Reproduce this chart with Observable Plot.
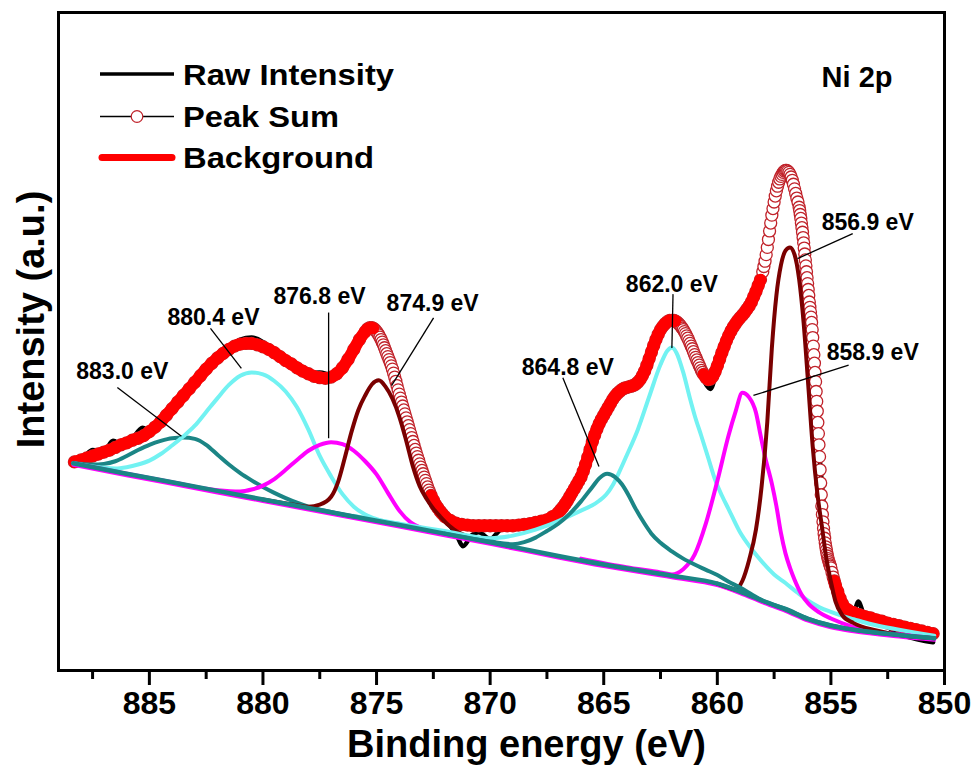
<!DOCTYPE html>
<html><head><meta charset="utf-8">
<script src="https://cdn.jsdelivr.net/npm/d3@7"></script>
<script src="https://cdn.jsdelivr.net/npm/@observablehq/plot@0.6"></script>
<style>
body{margin:0;background:#fff;}
#chart{width:976px;height:769px;overflow:hidden;}
</style></head><body><div id="chart"></div>
<script>
// ---------- data (binding energy eV, intensity a.u.) ----------
const majorTicks = [885, 880, 875, 870, 865, 860, 855, 850];
const minorTicks = [887.5, 882.5, 877.5, 872.5, 867.5, 862.5, 857.5, 852.5];

const peakSum = [
[888.3,31.7],[888.0,32.0],[887.75,32.3],[887.5,32.6],[887.25,32.9],[887.0,33.2],[886.75,33.5],[886.5,33.9],[886.25,34.3],[886.0,34.6],
[885.75,35.0],[885.5,35.3],[885.25,35.7],[885.0,36.3],[884.75,37.0],[884.5,37.8],[884.25,38.8],[884.0,39.8],[883.75,40.8],[883.5,41.8],
[883.25,42.8],[883.0,43.8],[882.75,44.8],[882.5,45.8],[882.25,46.7],[882.0,47.5],[881.75,48.2],[881.5,48.8],[881.25,49.3],[881.0,49.6],
[880.75,49.7],[880.5,49.7],[880.25,49.5],[880.0,49.2],[879.75,48.8],[879.5,48.3],[879.25,47.7],[879.0,47.1],[878.75,46.6],[878.5,46.0],
[878.25,45.5],[878.0,45.1],[877.75,44.7],[877.5,44.5],[877.25,44.4],[877.0,44.6],[876.75,45.1],[876.5,46.0],[876.25,47.3],[876.0,48.8],
[875.75,50.3],[875.5,51.5],[875.4,51.9],[875.3,52.1],[875.2,52.1],[875.15,52.0],[875.1,51.9],[875.05,51.7],[875.0,51.5],[874.95,51.25],
[874.9,51.0],[874.85,50.65],[874.8,50.3],[874.75,49.9],[874.7,49.5],[874.65,49.05],[874.6,48.6],[874.55,48.15],[874.5,47.7],[874.45,47.25],
[874.4,46.8],[874.35,46.3],[874.3,45.8],[874.25,45.2],[874.2,44.6],[874.15,43.95],[874.1,43.3],[874.05,42.65],[874.0,42.0],[873.95,41.4],
[873.9,40.8],[873.85,40.2],[873.8,39.6],[873.75,39.0],[873.7,38.4],[873.65,37.8],[873.6,37.2],[873.55,36.6],[873.5,36.0],[873.45,35.4],
[873.4,34.8],[873.35,34.2],[873.3,33.6],[873.25,33.05],[873.2,32.5],[873.15,31.95],[873.1,31.4],[873.05,30.9],[873.0,30.4],[872.95,29.9],
[872.9,29.4],[872.85,28.9],[872.8,28.4],[872.75,27.9],[872.7,27.4],[872.65,27.0],[872.6,26.6],[872.5,25.9],[872.4,25.2],[872.3,24.7],
[872.2,24.2],[872.1,23.8],[872.0,23.4],[871.75,22.8],[871.5,22.4],[871.25,22.2],
[871.0,22.1],[870.75,22.0],[870.5,22.0],[870.25,22.0],[870.0,22.0],[869.75,22.0],[869.5,22.0],[869.25,22.0],[869.0,22.0],[868.75,22.1],
[868.5,22.2],[868.25,22.3],[868.0,22.5],[867.75,22.7],[867.5,22.9],[867.25,23.4],[867.0,24.0],[866.9,24.4],[866.8,24.8],[866.7,25.3],
[866.6,25.8],[866.5,26.4],[866.4,27.0],[866.3,27.6],[866.2,28.2],[866.1,28.8],[866.0,29.4],[865.9,30.3],[865.8,31.3],[865.7,32.4],
[865.6,33.6],[865.5,34.8],[865.4,35.8],[865.3,36.7],[865.2,37.5],[865.1,38.2],[865.0,38.8],[864.9,39.4],[864.8,40.0],[864.7,40.6],
[864.6,41.2],[864.5,41.7],[864.4,42.1],[864.3,42.4],[864.2,42.7],[864.1,42.9],[864.0,43.0],[863.9,43.1],[863.8,43.2],[863.7,43.3],
[863.6,43.5],[863.5,43.8],[863.4,44.2],[863.3,44.8],[863.2,45.5],[863.1,46.4],[863.0,47.4],[862.9,48.4],[862.8,49.4],[862.7,50.3],
[862.6,51.1],[862.5,51.8],[862.4,52.3],[862.3,52.7],[862.2,53.0],[862.1,53.2],[862.0,53.2],[861.9,53.2],[861.85,53.1],[861.8,53.0],
[861.75,52.85],[861.7,52.7],[861.65,52.5],[861.6,52.3],[861.55,52.05],[861.5,51.8],[861.45,51.5],[861.4,51.2],[861.35,50.85],[861.3,50.5],
[861.25,50.1],[861.2,49.7],[861.15,49.3],[861.1,48.9],[861.05,48.45],[861.0,48.0],[860.95,47.6],[860.9,47.2],[860.85,46.8],[860.8,46.4],
[860.75,46.0],[860.7,45.6],[860.65,45.3],[860.6,45.0],[860.5,44.5],[860.4,44.2],[860.3,44.3],[860.2,44.7],[860.1,45.4],[860.0,46.3],
[859.9,47.3],[859.8,48.3],[859.7,49.2],
[859.6,50.1],[859.5,50.9],[859.4,51.6],[859.3,52.2],[859.2,52.7],[859.1,53.2],[859.0,53.6],[858.9,54.0],[858.8,54.4],[858.7,54.9],
[858.6,55.4],[858.5,56.0],[858.4,56.8],[858.3,57.6],[858.2,58.5],[858.1,59.4],[858.0,60.6],[857.95,61.4],[857.9,62.2],[857.85,63.2],
[857.8,64.3],[857.75,65.5],[857.7,66.8],[857.65,68.0],[857.6,69.2],[857.55,70.2],[857.5,71.2],[857.45,72.1],[857.4,72.9],[857.35,73.6],
[857.3,74.2],[857.25,74.7],[857.2,75.1],[857.15,75.4],[857.1,75.7],[857.05,75.9],[857.0,76.0],[856.95,76.0],[856.9,75.9],[856.85,75.7],
[856.8,75.4],[856.75,75.0],[856.7,74.5],[856.65,73.9],[856.6,73.2],[856.55,72.5],[856.5,71.8],[856.45,71.2],[856.4,70.4],[856.375,69.9],
[856.35,69.3],[856.325,68.7],[856.3,68.0],[856.275,67.3],[856.25,66.6],[856.225,65.8],[856.2,65.0],[856.175,64.2],[856.15,63.3],[856.125,62.4],
[856.1,61.5],[856.075,60.6],[856.05,59.7],[856.025,58.8],[856.0,57.9],[855.975,57.0],[855.95,56.0],[855.925,55.2],[855.9,54.5],[855.875,53.7],
[855.85,52.9],[855.825,51.8],[855.8,50.6],[855.775,49.3],[855.75,48.0],[855.725,46.7],[855.7,45.3],[855.675,43.9],[855.65,42.4],[855.625,40.9],
[855.6,39.4],[855.575,37.7],[855.55,36.0],[855.525,34.3],[855.5,32.5],[855.475,30.5],[855.45,28.5],[855.425,26.7],[855.4,25.0],[855.375,23.7],
[855.35,22.6],[855.325,21.6],[855.3,20.8],[855.275,20.1],[855.25,19.4],[855.225,18.8],[855.2,18.3],[855.175,17.8],[855.15,17.4],[855.125,17.0],
[855.1,16.7],[855.075,16.4],[855.05,16.1],[855.025,15.85],[855.0,15.6],[854.95,14.9],[854.9,14.2],[854.85,13.6],
[854.8,13.0],[854.7,12.0],[854.6,11.0],[854.5,10.2],[854.25,9.2],[854.0,8.8],[853.75,8.5],[853.5,8.2],[853.25,8.0],[853.0,7.7],
[852.75,7.5],[852.5,7.2],[852.25,7.0],[852.0,6.8],[851.75,6.6],[851.5,6.4],[851.25,6.2],[851.0,6.0],[850.75,5.8],[850.5,5.6]
];

const rawIntensity = [
[888.3,31.9],[887.9,32.4],[887.5,33.5],[887.0,33.3],[886.6,34.9],[886.2,34.3],[885.8,35.0],[885.3,36.9],[885.0,36.4],[884.5,37.9],
[884.0,39.7],[883.5,41.9],[883.0,43.8],[882.5,45.8],[882.0,47.7],[881.5,49.2],[881.0,50.3],[880.5,50.6],[880.0,49.9],[879.5,48.3],
[879.0,47.0],[878.5,46.0],[878.0,45.2],[877.5,45.3],[877.0,44.9],[876.5,46.0],[876.0,48.8],[875.5,51.5],[875.0,51.5],[874.5,47.7],
[874.0,42.0],[873.5,36.0],[873.0,30.3],[872.5,25.8],[872.0,23.0],[871.5,20.8],[871.2,18.9],[870.8,20.6],[870.5,21.0],[870.0,20.0],
[869.5,21.5],[869.0,21.8],[868.5,22.0],[868.0,22.3],[867.5,22.9],[867.0,24.0],[866.5,26.4],[866.0,29.4],[865.5,34.8],[865.0,38.8],
[864.5,41.7],[864.0,43.0],[863.5,43.8],[863.0,47.4],[862.5,51.8],[862.0,53.2],[861.5,51.8],[861.0,48.0],[860.5,43.5],[860.3,42.8],
[860.0,46.0],[859.5,50.9],[859.0,53.6],[858.5,56.0],[858.0,60.6],[857.5,71.2],[857.0,76.0],[856.5,71.8],[856.0,57.9],[855.5,32.5],
[855.0,15.6],[854.5,10.0],[854.0,8.8],[853.8,10.5],[853.5,8.2],[853.0,7.7],[852.5,6.6],[852.0,5.6],[851.5,5.0],[851.0,4.6],[850.5,4.3]
];

const shirleyBase = [
[888.35,31.5],[886,29.9],[884,28.6],[882,27.3],[880,26.0],[878,24.7],[876,23.4],[874,22.1],[872,20.8],[870,19.5],[867,17.4],
[865,16.1],[862,14.4],[860,13.2],[859,12.0],[858,10.6],[857,9.3],[856,7.8],[855,6.8],[854,6.2],[852,5.4],[850.45,4.9]
];

const peak883 = [[888.35,31.5],[887.5,31.3],[887,31.4],[886.5,31.8],[886,32.6],[885.5,33.5],[885,34.3],[884.5,34.9],[884,35.3],[883.5,35.4],[883,35.2],[882.5,34.3],[882,32.8],[881.5,31.3],[881,30.0],[880.5,28.9],[880,27.9],[879.5,27.0],[879,26.2],[878.5,25.5],[878,24.9],[877,24.1],[876,23.4]];
const peak880 = [[888.35,31.5],[887.5,31.0],[887,30.8],[886.5,30.7],[886,30.9],[885.5,31.3],[885,31.9],[884.5,32.9],[884,34.2],[883.5,35.6],[883,37.2],[882.5,39.3],[882,41.4],[881.5,43.4],[881,44.8],[880.5,45.3],[880,45.0],[879.5,44.0],[879,42.4],[878.5,40.0],[878,36.6],[877.5,32.6],[877,29.5],[876.5,26.8],[876,24.9],[875.5,23.7],[875,23.0],[874,22.3]];
const peak876 = [[888.35,31.5],[886,29.9],[884,28.6],[882,27.4],[881,27.2],[880.5,27.5],[880,28.1],[879.5,29.1],[879,30.5],[878.5,32.0],[878,33.4],[877.5,34.3],[877,34.7],[876.5,34.4],[876,33.4],[875.5,31.8],[875,29.8],[874.5,27.0],[874,24.3],[873.5,22.5],[873,21.6],[872,20.8],[870,19.5]];
const peak875 = [[880,26.0],[879,25.4],[878.5,25.1],[878,24.9],[877.5,25.2],[877,26.4],[876.7,28.6],[876.4,32.3],[876.1,36.3],[875.8,39.6],[875.5,41.8],[875.2,43.5],[874.9,44.1],[874.6,43.1],[874.3,41.3],[874,38.6],[873.7,35.0],[873.4,31.0],[873.1,28.0],[872.8,26.1],[872.5,24.6],[872.2,23.4],[871.8,22.0],[871.4,21.0],[871,20.4],[870,19.6],[869,18.8]];
const peak864 = [[872,20.8],[870,19.6],[869,19.2],[868.5,19.5],[868,20.2],[867.5,21.2],[867,22.3],[866.5,23.8],[866,25.7],[865.5,27.9],[865.2,29.2],[864.85,29.9],[864.5,29.4],[864.2,28.3],[863.9,26.6],[863.6,24.6],[863.2,22.3],[862.9,20.8],[862.5,19.4],[862,18.1],[861.5,17.0],[861,16.1],[860.5,15.3],[860,14.5],[859.5,13.5],[859,12.6],[858.5,11.6],[858,10.6],[857,9.4],[856,7.9],[855,6.9],[854,6.2],[852,5.4],[850.45,4.9]];
const peak862 = [[876,23.5],[874,22.3],[872,21.2],[870,20.1],[869,20.5],[868,21.4],[867.5,22.0],[867,22.7],[866.5,23.5],[866,24.3],[865.5,25.1],[865.2,25.8],[864.9,26.7],[864.6,28.2],[864.3,30.3],[864,32.6],[863.5,36.6],[863,41.6],[862.5,46.5],[862.2,48.6],[862,49.1],[861.8,48.3],[861.5,45.3],[861.2,41.3],[861,38.8],[860.7,35.6],[860.4,32.3],[860.1,29.0],[859.8,26.6],[859.5,24.5],[859,21.0],[858.5,18.5],[858,16.4],[857.5,14.6],[857,13.3],[856.5,11.9],[856,10.6],[855.5,9.6],[855,8.9],[854.5,8.3],[854,7.8],[853.3,7.1],[852,6.2],[851,5.6],[850.45,5.3]];
const peak858 = [[866,17.0],[864,15.7],[862.5,14.9],[862,14.6],[861.5,15.4],[861,17.6],[860.5,22.4],[860,28.8],[859.5,35.8],[859.2,39.3],[858.9,42.2],[858.6,41.5],[858.3,39.2],[858.1,35.8],[857.9,32.5],[857.6,28.4],[857.4,25.0],[857.2,20.9],[857,17.8],[856.8,15.6],[856.6,13.8],[856.3,11.6],[856,10.2],[855.5,8.8],[855,7.9],[854,6.6],[852,5.5],[850.45,4.9]];
const peak857 = [[860,13.2],[859.5,12.6],[859.2,12.3],[858.9,13.6],[858.6,16.8],[858.3,21.4],[858.05,28.0],[857.8,37.8],[857.6,49.0],[857.4,57.0],[857.2,61.6],[857,63.8],[856.8,64.3],[856.6,63.2],[856.4,59.5],[856.2,52.8],[856,43.5],[855.8,34.0],[855.6,27.0],[855.4,22.0],[855.2,17.0],[855,13.5],[854.8,10.5],[854.5,8.4],[854,7.2],[853,6.1],[852,5.4],[850.45,4.9]];

const labelText  = ["883.0 eV","880.4 eV","876.8 eV","874.9 eV","864.8 eV","862.0 eV","858.9 eV","856.9 eV"];
const labelE     = [886.19, 882.18, 877.51, 872.53, 866.58, 862.0, 853.16, 853.38];
const labelV     = [45.4, 53.6, 56.8, 55.8, 46.0, 58.7, 48.3, 68.1];
const arrowFromE = [886.41, 882.31, 877.11, 872.49, 866.80, 861.95, 854.22, 854.04];
const arrowFromV = [43.0, 52.0, 54.4, 53.6, 44.5, 57.2, 46.4, 66.4];
const arrowToE   = [883.59, 880.95, 877.11, 874.34, 865.21, 862.0, 858.41, 856.47];
const arrowToV   = [35.6, 45.9, 35.3, 43.3, 31.0, 49.0, 41.8, 62.6];

const legendNames = ["Raw Intensity", "Peak Sum", "Background"];
const panelLabel = "Ni 2p";
const xTitle = "Binding energy (eV)";
const yTitle = "Intensity (a.u.)";
const lineGaps = [[875.15, 872.6], [861.85, 860.6], [858.05, 854.85]];

// ---------- styles ----------
const FONT = "'Liberation Sans', Arial, Helvetica, sans-serif";
const C = {raw:"#000000", bgLine:"#ff0000", ring:"#c0222a", teal:"#1b8585", cyan:"#72f2f2", magenta:"#ff00ff", maroon:"#7a0000"};

const rows = arr => arr.map(([E, v]) => ({E, v})).sort((a, b) => b.E - a.E);
const inGap = E => lineGaps.some(([a, b]) => E < a && E > b);
const labels = labelText.map((t, i) => ({t, E: labelE[i], v: labelV[i]}));
const arrows = labelText.map((t, i) => ({x1: arrowFromE[i], y1: arrowFromV[i], x2: arrowToE[i], y2: arrowToV[i]}));

const comp = (data, color) => Plot.line(rows(data), {x: "E", y: "v", stroke: color, strokeWidth: 4, curve: "monotone-x", strokeLinejoin: "round"});

const chart = Plot.plot({
  width: 976, height: 769,
  marginLeft: 58, marginRight: 32, marginTop: 12, marginBottom: 99,
  style: {fontFamily: FONT, background: "white", overflow: "visible", color: "black"},
  x: {domain: [889, 850]},
  y: {domain: [0, 100], axis: null},
  marks: [
    Plot.line(rows(rawIntensity), {x: "E", y: "v", stroke: C.raw, strokeWidth: 4.5, curve: "monotone-x"}),
    Plot.dot(rows(peakSum), {x: "E", y: "v", r: 6, stroke: C.ring, strokeWidth: 1.3, fill: "white"}),
    Plot.line(rows(peakSum), {x: "E", y: d => inGap(d.E) ? NaN : d.v, stroke: C.bgLine, strokeWidth: 12, curve: "monotone-x", strokeLinecap: "round"}),
    Plot.line(rows(shirleyBase), {x: "E", y: "v", stroke: C.magenta, strokeWidth: 3.5, dy: 1.8, curve: "monotone-x"}),
    comp(peak883, C.teal),
    comp(peak880, C.cyan),
    comp(peak876, C.magenta),
    comp(peak875, C.maroon),
    comp(peak862, C.cyan),
    comp(peak858, C.magenta),
    comp(peak857, C.maroon),
    comp(peak864, C.teal),
    Plot.line(rows(shirleyBase), {x: "E", y: "v", stroke: C.teal, strokeWidth: 4.5, curve: "monotone-x"}),
    Plot.link(arrows, {x1: "x1", y1: "y1", x2: "x2", y2: "y2", stroke: "black", strokeWidth: 1.3, ariaLabel: "peak-arrows"}),
    Plot.text(labels, {x: "E", y: "v", text: "t", fontSize: 23, fontWeight: "bold", fill: "black", ariaLabel: "peak-labels"}),
    Plot.text([panelLabel], {frameAnchor: "top-right", dx: -52, dy: 65, textAnchor: "end", lineAnchor: "middle", fontSize: 29, fontWeight: "bold", ariaLabel: "panel-label"}),
    Plot.frame({stroke: "black", strokeWidth: 3}),
    Plot.axisX(majorTicks, {tickSize: 15, tickPadding: 6, fontSize: 32, fontWeight: "bold", strokeWidth: 3, label: null, tickFormat: d => String(d)}),
    Plot.axisX(minorTicks, {tickSize: 9, strokeWidth: 3, label: null, tickFormat: () => ""}),
    Plot.text([xTitle], {frameAnchor: "bottom", dx: 25, dy: 74, lineAnchor: "middle", textAnchor: "middle", fontSize: 38, fontWeight: "bold", ariaLabel: "x-title"}),
    Plot.text([yTitle], {frameAnchor: "left", dx: -27, dy: -22, rotate: -90, lineAnchor: "middle", textAnchor: "middle", fontSize: 38, fontWeight: "bold", ariaLabel: "y-title"})
  ]
});
document.getElementById("chart").append(chart);

// ---------- post styling ----------
const svg = d3.select(chart);
svg.selectAll('g[aria-label="peak-labels"] text').attr("textLength", 98).attr("lengthAdjust", "spacingAndGlyphs");
svg.selectAll('g[aria-label="panel-label"] text').attr("textLength", 84).attr("lengthAdjust", "spacingAndGlyphs");
svg.selectAll('g[aria-label="x-title"] text').attr("textLength", 370).attr("lengthAdjust", "spacingAndGlyphs");
svg.selectAll('g[aria-label="y-title"] text').attr("textLength", 272).attr("lengthAdjust", "spacingAndGlyphs");
const defs = svg.insert("defs", ":first-child");
defs.append("marker").attr("id", "ahead").attr("viewBox", "0 0 14 9").attr("refX", 13.5).attr("refY", 4.5)
  .attr("markerWidth", 14).attr("markerHeight", 9).attr("markerUnits", "userSpaceOnUse").attr("orient", "auto")
  .append("path").attr("d", "M0,0L14,4.5L0,9Z").attr("fill", "black");
svg.selectAll('g[aria-label="peak-arrows"] path').attr("marker-end", "url(#ahead)");

// legend (inside the frame, top-left)
const lg = svg.append("g").attr("font-family", FONT).attr("font-weight", "bold").attr("font-size", 29).attr("text-anchor", "start").attr("fill", "black");
const legY = [74, 116.5, 157.5];
const legW = [211, 156, 191];
lg.append("line").attr("x1", 100).attr("x2", 174).attr("y1", legY[0]).attr("y2", legY[0]).attr("stroke", C.raw).attr("stroke-width", 3.5);
lg.append("line").attr("x1", 100).attr("x2", 174).attr("y1", legY[1]).attr("y2", legY[1]).attr("stroke", "#000").attr("stroke-width", 1.3);
lg.append("circle").attr("cx", 137).attr("cy", legY[1]).attr("r", 5.8).attr("fill", "white").attr("stroke", C.ring).attr("stroke-width", 1.2);
lg.append("line").attr("x1", 102).attr("x2", 172).attr("y1", legY[2]).attr("y2", legY[2]).attr("stroke", C.bgLine).attr("stroke-width", 7).attr("stroke-linecap", "round");
legendNames.forEach((n, i) => {
  lg.append("text").attr("x", 183).attr("y", legY[i] + 10.5).attr("textLength", legW[i]).attr("lengthAdjust", "spacingAndGlyphs").text(n);
});
</script>
</body></html>
